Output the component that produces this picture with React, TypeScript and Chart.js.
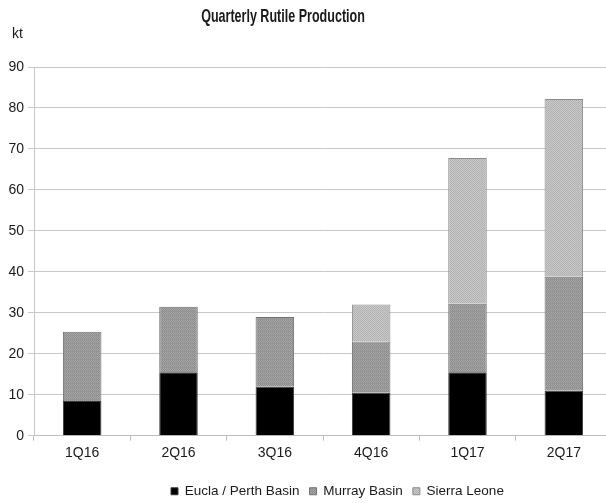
import React, { useEffect, useRef } from "react";
import { Chart, registerables } from "chart.js";

Chart.register(...registerables);

const categories = ["1Q16", "2Q16", "3Q16", "4Q16", "1Q17", "2Q17"];
const euclaPerth = [8.5, 15.5, 12, 10.5, 15.5, 11];
const murrayBasin = [16.9, 16, 17, 12.5, 16.7, 27.8];
const sierraLeone = [0, 0, 0, 9, 35.6, 43.4];
const yTicks = [0, 10, 20, 30, 40, 50, 60, 70, 80, 90];

const FONT = "'Liberation Sans', Arial, sans-serif";

function makePattern(a: string, b: string, line?: string): CanvasPattern | string {
  const c = document.createElement("canvas");
  c.width = 4;
  c.height = 4;
  const ctx = c.getContext("2d");
  if (!ctx) return a;
  ctx.fillStyle = a;
  ctx.fillRect(0, 0, 4, 4);
  ctx.fillStyle = b;
  for (let y = 0; y < 4; y++) {
    for (let x = 0; x < 4; x++) {
      if ((x + y) % 2 === 0) ctx.fillRect(x, y, 1, 1);
    }
  }
  if (line) {
    ctx.fillStyle = line;
    ctx.fillRect(0, 3, 4, 1);
  }
  const p = ctx.createPattern(c, "repeat");
  return p || a;
}

export default function App() {
  const ref = useRef<HTMLCanvasElement | null>(null);

  useEffect(() => {
    if (!ref.current) return;
    const murrayFill = makePattern("#a6a6a6", "#8e8e8e", "#959595");
    const sierraFill = makePattern("#c8c8c8", "#b2b2b2");

    const overlay = {
      id: "overlayText",
      afterUpdate(chart: any) {
        const lg = chart.legend;
        if (!lg || !lg.legendHitBoxes || !lg.legendHitBoxes.length) return;
        const dx = 171 - lg.legendHitBoxes[0].left;
        const dy = 9;
        lg.left += dx;
        lg.right += dx;
        lg.top += dy;
        lg.bottom += dy;
      },
      afterDraw(chart: any) {
        const ctx = chart.ctx;
        ctx.save();
        ctx.fillStyle = "#1a1a1a";
        ctx.textBaseline = "middle";
        ctx.save();
        ctx.translate(283, 17);
        ctx.scale(0.66, 1);
        ctx.textAlign = "center";
        ctx.font = `bold 19px ${FONT}`;
        ctx.fillText("Quarterly Rutile Production", 0, 0);
        ctx.restore();
        ctx.font = `14px ${FONT}`;
        ctx.textAlign = "left";
        ctx.fillText("kt", 12, 34);
        ctx.restore();
      },
    };

    const chart = new Chart(ref.current, {
      type: "bar",
      data: {
        labels: categories,
        datasets: [
          {
            label: "Eucla / Perth Basin",
            data: euclaPerth,
            backgroundColor: "#000000",
            borderColor: "#3a3a3a",
            borderWidth: 1,
            barPercentage: 0.4,
            categoryPercentage: 1,
          },
          {
            label: "Murray Basin",
            data: murrayBasin,
            backgroundColor: murrayFill as any,
            borderColor: "#707070",
            borderWidth: 1,
            barPercentage: 0.4,
            categoryPercentage: 1,
          },
          {
            label: "Sierra Leone",
            data: sierraLeone,
            backgroundColor: sierraFill as any,
            borderColor: "#8a8a8a",
            borderWidth: 1,
            barPercentage: 0.4,
            categoryPercentage: 1,
          },
        ],
      },
      options: {
        animation: false,
        responsive: false,
        maintainAspectRatio: false,
        layout: { padding: { top: 67, left: 0, right: 0, bottom: 4 } },
        plugins: {
          title: { display: false },
          tooltip: { enabled: false },
          legend: {
            position: "bottom",
            labels: {
              boxWidth: 7,
              boxHeight: 7,
              padding: 10,
              color: "#1a1a1a",
              font: { family: FONT, size: 13.5 },
            },
          },
        },
        scales: {
          x: {
            stacked: true,
            grid: {
              display: true,
              drawOnChartArea: false,
              drawTicks: true,
              tickLength: 5,
              color: "#bdbdbd",
              offset: true,
            },
            border: { display: true, color: "#bdbdbd" },
            ticks: {
              color: "#1a1a1a",
              font: { family: FONT, size: 14 },
              padding: 4,
            },
          },
          y: {
            stacked: true,
            min: 0,
            max: 90,
            afterBuildTicks: (scale: any) => {
              scale.ticks = yTicks.map((v) => ({ value: v }));
            },
            afterFit: (scale: any) => {
              scale.width = 34;
            },
            grid: {
              color: "#c8c8c8",
              drawTicks: true,
              tickLength: 6,
            },
            border: { display: true, color: "#c8c8c8" },
            ticks: {
              color: "#1a1a1a",
              font: { family: FONT, size: 14 },
              padding: 4,
            },
          },
        },
      },
      plugins: [overlay],
    });
    return () => chart.destroy();
  }, []);

  return (
    <div style={{ position: "fixed", left: 0, top: 0, width: 606, height: 503, overflow: "hidden", background: "#fff" }}>
      <canvas ref={ref} width={612} height={503} style={{ display: "block", width: 612, height: 503 }} />
    </div>
  );
}
